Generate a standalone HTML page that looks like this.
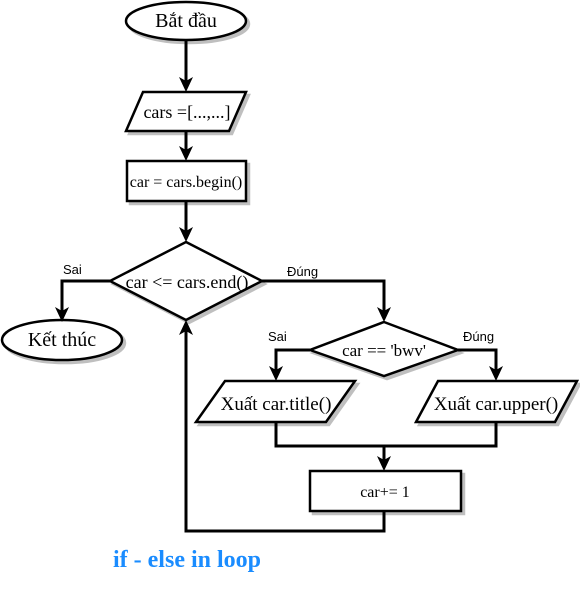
<!DOCTYPE html>
<html><head><meta charset="utf-8"><style>
body{margin:0;background:#fff;width:580px;height:586px;overflow:hidden}
text{font-family:"Liberation Serif",serif;fill:#000}
.lbl{font-family:"Liberation Sans",sans-serif}
</style></head><body>
<svg width="580" height="586" viewBox="0 0 580 586">
<defs>
<filter id="sh" x="-10%" y="-10%" width="130%" height="140%"><feOffset dx="3" dy="3" in="SourceAlpha" result="o"/><feFlood flood-color="#000" flood-opacity="0.25"/><feComposite in2="o" operator="in"/><feMerge><feMergeNode/><feMergeNode in="SourceGraphic"/></feMerge></filter>
</defs>
<g style="fill:#fff;stroke:#000;stroke-width:2.5" filter="url(#sh)">
<ellipse cx="186" cy="21" rx="60" ry="19"/>
<polygon points="143,92 246,92 229,131 126,131"/>
<rect x="127" y="161" width="119" height="40"/>
<polygon points="186,242 262,281 186,320 110,281"/>
<ellipse cx="62" cy="340" rx="60" ry="20"/>
<polygon points="384,322 458,350 384,376 310,350"/>
<polygon points="225,381 355,381 326,422 196,422"/>
<polygon points="438,381 577,381 555,422 416,422"/>
<rect x="310" y="471" width="151" height="40"/>
</g>
<g style="fill:none;stroke:#000;stroke-width:3">
<path d="M186,40 V85"/>
<path d="M186,131 V155"/>
<path d="M186,201 V236"/>
<path d="M110,281 H62 V314"/>
<path d="M262,281 H384 V316"/>
<path d="M310,350 H276 V375"/>
<path d="M458,350 H496 V375"/>
<path d="M276,422 V446 H496 V422"/>
<path d="M384,446 V465"/>
<path d="M384,511 V531 H186 V326"/>
</g>
<g style="fill:#000;stroke:none">
<polygon points="179,77 186,92 193,77 186,81"/>
<polygon points="179,146 186,161 193,146 186,150"/>
<polygon points="179,227 186,242 193,227 186,231"/>
<polygon points="55,307 62,322 69,307 62,311"/>
<polygon points="377,307 384,322 391,307 384,311"/>
<polygon points="269,366 276,381 283,366 276,370"/>
<polygon points="489,366 496,381 503,366 496,370"/>
<polygon points="377,456 384,471 391,456 384,460"/>
<polygon points="179,335 186,320 193,335 186,331"/>
</g>
<text x="186" y="27" text-anchor="middle" style="font-size:20px">Bắt đầu</text>
<text x="187" y="118" text-anchor="middle" style="font-size:18px">cars =[...,...]</text>
<text x="186" y="187" text-anchor="middle" style="font-size:16px">car = cars.begin()</text>
<text x="187" y="288" text-anchor="middle" style="font-size:18px">car &lt;= cars.end()</text>
<text x="62" y="346" text-anchor="middle" style="font-size:20px">Kết thúc</text>
<text x="384" y="356" text-anchor="middle" style="font-size:17px">car == 'bwv'</text>
<text x="276" y="410" text-anchor="middle" style="font-size:19px">Xuất car.title()</text>
<text x="496" y="410" text-anchor="middle" style="font-size:19px">Xuất car.upper()</text>
<text x="385" y="497" text-anchor="middle" style="font-size:16px">car+= 1</text>
<text class="lbl" x="63" y="274" style="font-size:13px">Sai</text>
<text class="lbl" x="287" y="276" style="font-size:13px">Đúng</text>
<text class="lbl" x="268" y="341" style="font-size:13px">Sai</text>
<text class="lbl" x="463" y="341" style="font-size:13px">Đúng</text>
<text x="113" y="567" style="font-size:24px;font-weight:bold;fill:#1a8cff">if - else in loop</text>
</svg>
</body></html>
